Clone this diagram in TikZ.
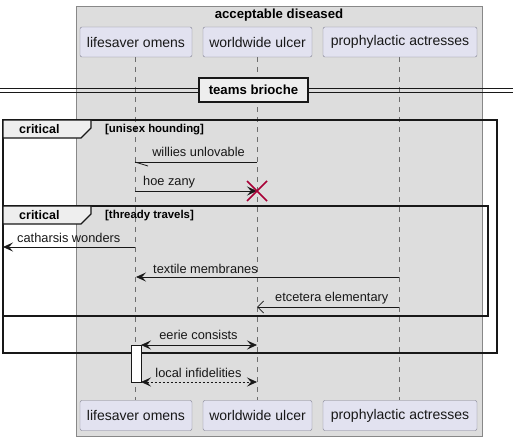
\documentclass[tikz,border=0pt]{standalone}
\usepackage{fontspec}
\setmainfont{Liberation Sans}
\usetikzlibrary{arrows.meta}
\definecolor{grpbg}{HTML}{DDDDDD}
\definecolor{grpline}{HTML}{888888}
\definecolor{partbg}{HTML}{E2E2F0}
\definecolor{partline}{HTML}{7F7F8F}
\definecolor{tabbg}{HTML}{EEEEEE}
\definecolor{lineclr}{HTML}{181818}
\definecolor{destroyclr}{HTML}{A80036}
\tikzset{
  part/.style={draw=partline, fill=partbg, rounded corners=2pt, minimum height=30pt, inner sep=0pt, font=\fontsize{14}{16}\selectfont, text=lineclr},
  lifeline/.style={draw=grpline!80!black, dash pattern=on 5pt off 5pt, line width=0.6pt},
  msg/.style={draw=lineclr, line width=0.8pt},
  lbl/.style={font=\fontsize{12.8}{15}\selectfont, text=lineclr, inner sep=0pt},
  frametab/.style={draw=lineclr, fill=tabbg, line width=1.2pt},
  framebox/.style={draw=lineclr, line width=1.5pt},
  tabtxt/.style={font=\bfseries\fontsize{12.5}{14}\selectfont, inner sep=0pt, anchor=west},
  condtxt/.style={font=\bfseries\fontsize{11.4}{13}\selectfont, inner sep=0pt, anchor=west},
  full/.style={-{Stealth[length=10pt,width=9pt,inset=4pt]}},
  fullboth/.style={{Stealth[length=10pt,width=9pt,inset=4pt]}-{Stealth[length=10pt,width=9pt,inset=4pt]}},
  openhead/.style={-{Straight Barb[length=6pt,width=12pt,line width=0.8pt]}},
}
\begin{document}
\begin{tikzpicture}[x=1pt,y=-1pt]
\useasboundingbox (0,0) rectangle (513,441);
% group
\fill[grpbg] (76,6) rectangle (482,436);
\draw[grpline, line width=0.8pt] (76,6) rectangle (482,436);
\node[font=\bfseries\fontsize{13.2}{15}\selectfont, inner sep=0pt] (grp) at (279,15) {acceptable diseased};
% lifelines
\draw[lifeline] (135,57) -- (135,400);
\draw[lifeline] (257,57) -- (257,400);
\draw[lifeline] (399,57) -- (399,400);
% participants top
\node[part, minimum width=112pt] (a1) at (136,42) {lifesaver omens};
\node[part, minimum width=109pt] (b1) at (257.5,42) {worldwide ulcer};
\node[part, minimum width=154pt] (c1) at (400,42) {prophylactic actresses};
% participants bottom
\node[part, minimum width=112pt] (a2) at (136,415.5) {lifesaver omens};
\node[part, minimum width=109pt] (b2) at (257.5,415.5) {worldwide ulcer};
\node[part, minimum width=154pt] (c2) at (400,415.5) {prophylactic actresses};
% divider
\draw[lineclr, line width=0.8pt] (0,88) -- (513,88);
\draw[lineclr, line width=0.8pt] (0,92) -- (513,92);
\node[draw=lineclr, fill=tabbg, line width=1.8pt, minimum width=109pt, minimum height=24pt, inner sep=0pt, font=\bfseries\fontsize{13.2}{15}\selectfont] (div) at (253.5,90) {teams brioche};
% outer critical frame
\draw[framebox] (3,120) rectangle (497,353);
\draw[frametab] (3,120) -- (91,120) -- (91,128) -- (81,138) -- (3,138) -- cycle;
\node[tabtxt] (t1) at (19,129.5) {critical};
\node[condtxt] (k1) at (105,129.5) {[unisex hounding]};
% willies unlovable
\coordinate (m1s) at (257,162);
\coordinate (m1e) at (135,162);
\draw[msg] (m1s) -- (m1e);
\draw[msg] (m1e) -- ++(13,4);
\node[lbl] (l1) at (198.5,152) {willies unlovable};
% hoe zany
\coordinate (m2s) at (135,191);
\coordinate (m2e) at (257,191);
\draw[msg, full] (m2s) -- (m2e);
\node[lbl, anchor=west] (l2) at (143,182) {hoe zany};
\draw[destroyclr, line width=1.5pt] (247,181) -- (267,201) (247,201) -- (267,181);
% inner critical frame
\draw[framebox] (3,206) rectangle (488,316);
\draw[frametab] (3,206) -- (91,206) -- (91,214) -- (81,224) -- (3,224) -- cycle;
\node[tabtxt] (t2) at (19,215.5) {critical};
\node[condtxt] (k2) at (105,215.5) {[thready travels]};
% catharsis wonders
\coordinate (m3s) at (135,247);
\coordinate (edge) at (3,247);
\draw[msg, full] (m3s) -- (edge);
\node[lbl, anchor=west] (l3) at (17,238) {catharsis wonders};
% textile membranes
\coordinate (m4s) at (399,277);
\coordinate (m4e) at (136,277);
\draw[msg, full] (m4s) -- (m4e);
\node[lbl, anchor=west] (l4) at (153,269) {textile membranes};
% etcetera elementary
\coordinate (m5s) at (399,307);
\coordinate (m5e) at (257,307);
\draw[msg, openhead] (m5s) -- (m5e);
\node[lbl, anchor=west] (l5) at (275,298) {etcetera elementary};
% activation
\node[draw=lineclr, fill=white, line width=0.8pt, minimum width=10pt, minimum height=37pt, inner sep=0pt, anchor=north] (act) at (136,345) {};
% eerie consists
\coordinate (m6s) at (141,345);
\coordinate (m6e) at (257,345);
\draw[msg, fullboth] (m6s) -- (m6e);
\node[lbl] (l6) at (198.5,335) {eerie consists};
% local infidelities
\coordinate (m7s) at (141,382);
\coordinate (m7e) at (257,382);
\draw[msg, fullboth, dash pattern=on 2pt off 2pt] (m7s) -- (m7e);
\node[lbl] (l7) at (198.5,373) {local infidelities};
\end{tikzpicture}
\end{document}
